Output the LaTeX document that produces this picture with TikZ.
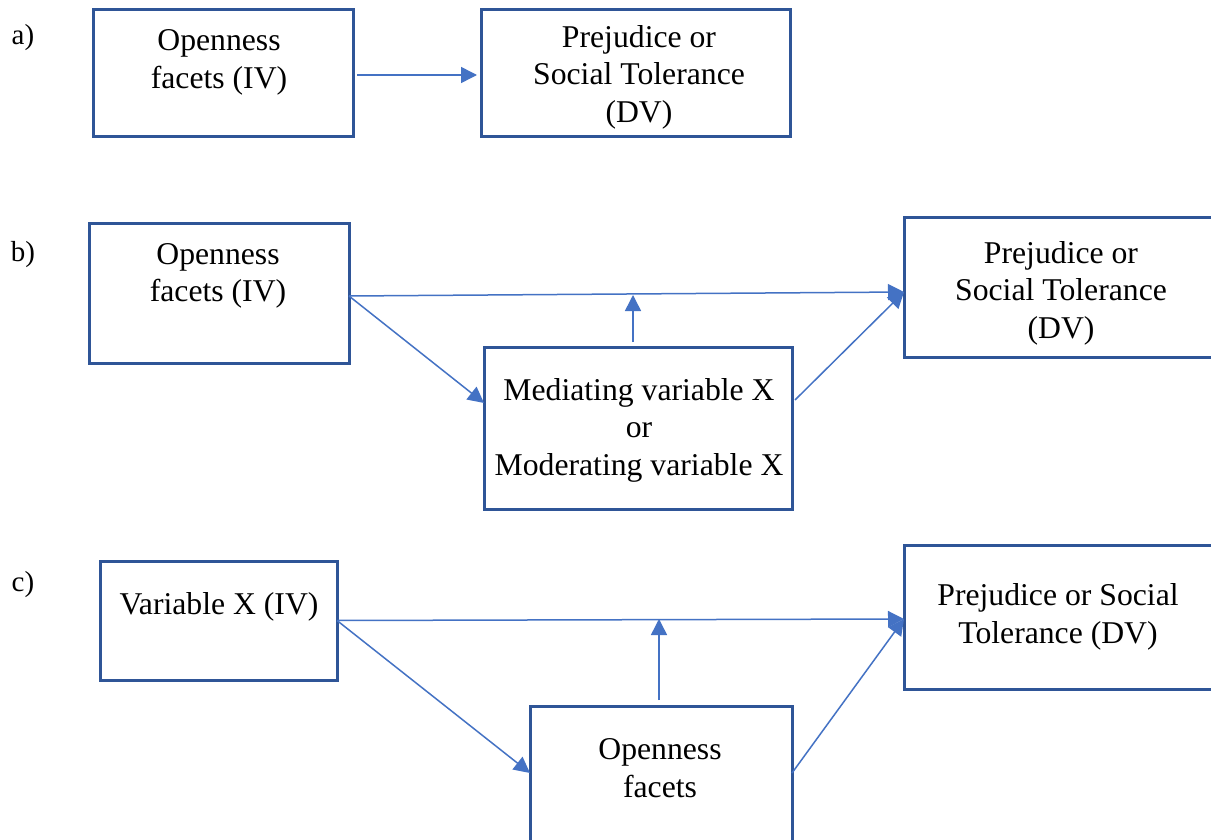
\documentclass[tikz,border=0pt]{standalone}
\usepackage{fontspec}
\setmainfont{Liberation Serif}
\usetikzlibrary{arrows.meta,calc}
\definecolor{boxblue}{HTML}{2F5597}
\definecolor{arrowblue}{HTML}{4472C4}
\tikzset{
  panel/.style={draw=boxblue, line width=3pt, rectangle, outer sep=0pt, inner sep=0pt},
  txt/.style={font=\fontsize{31.7}{37.5}\selectfont, align=center, inner sep=0pt},
  tag/.style={font=\fontsize{29}{34}\selectfont, inner sep=0pt},
  link/.style={draw=arrowblue, line width=1.5pt, -{Triangle[length=16pt,width=16pt]}},
}
\begin{document}
\begin{tikzpicture}[x=1pt,y=-1pt]
\useasboundingbox (0,0) rectangle (1211,840);
\fill[white] (0,0) rectangle (1211,840);

% ---- panel a ----
\node[tag] (la) at (23,38) {a)};
\node[panel, minimum width=260pt, minimum height=127pt] (A1) at (223,73.5) {};
\node[panel, minimum width=309pt, minimum height=127pt] (A2) at (635.5,73.5) {};
\node[txt] (ta1) at (219,62.5) {Openness\\facets (IV)};
\node[txt] (ta2) at (639,77) {Prejudice or\\Social Tolerance\\(DV)};
\draw[link, shorten <=4pt, shorten >=4pt] ($(A1.east)+(0,1.5)$) -- ($(A2.west)+(0,1.5)$);

% ---- panel b ----
\node[tag] (lb) at (23,255) {b)};
\node[panel, minimum width=260pt, minimum height=140pt] (B1) at (219,293) {};
\node[panel, minimum width=336pt, minimum height=140pt] (BR) at (1072,287) {};
\node[panel, minimum width=308pt, minimum height=162pt] (BM) at (638,428) {};
\node[txt] (tb1) at (218,276) {Openness\\facets (IV)};
\node[txt] (tbr) at (1061,293) {Prejudice or\\Social Tolerance\\(DV)};
\node[txt] (tbm) at (639,430) {Mediating variable X\\or\\Moderating variable X};
\coordinate (bv) at (633,295);
\draw[link] ($(B1.east)+(0,3)$) -- ($(BR.west)+(0,5)$);
\draw[link] ($(B1.east)+(0,3)$) -- ($(BM.north west)+(0,56)$);
\draw[link] ($(BM.north east)+(3,53)$) -- ($(BR.west)+(0,5)$);
\draw[link] ($(BM.north)+(-5,-5)$) -- (bv);

% ---- panel c ----
\node[tag] (lc) at (23,585) {c)};
\node[panel, minimum width=237pt, minimum height=119pt] (C1) at (218.5,620.5) {};
\node[panel, minimum width=336pt, minimum height=144pt] (CR) at (1072,617) {};
\node[panel, minimum width=262pt, minimum height=164pt] (CM) at (661,788) {};
\node[txt] (tc1) at (219,607) {Variable X (IV)};
\node[txt] (tcr) at (1058,617) {Prejudice or Social\\Tolerance (DV)};
\node[txt] (tcm) at (660,768) {Openness\\facets};
\coordinate (cv) at (659,619);
\draw[link] (C1.east) -- ($(CR.west)+(0,2)$);
\draw[link] (C1.east) -- ($(CM.north west)+(0,67)$);
\draw[link] ($(CM.north east)+(0,67)$) -- ($(CR.west)+(0,2)$);
\draw[link] ($(CM.north)+(-2,-6)$) -- (cv);
\end{tikzpicture}
\end{document}
